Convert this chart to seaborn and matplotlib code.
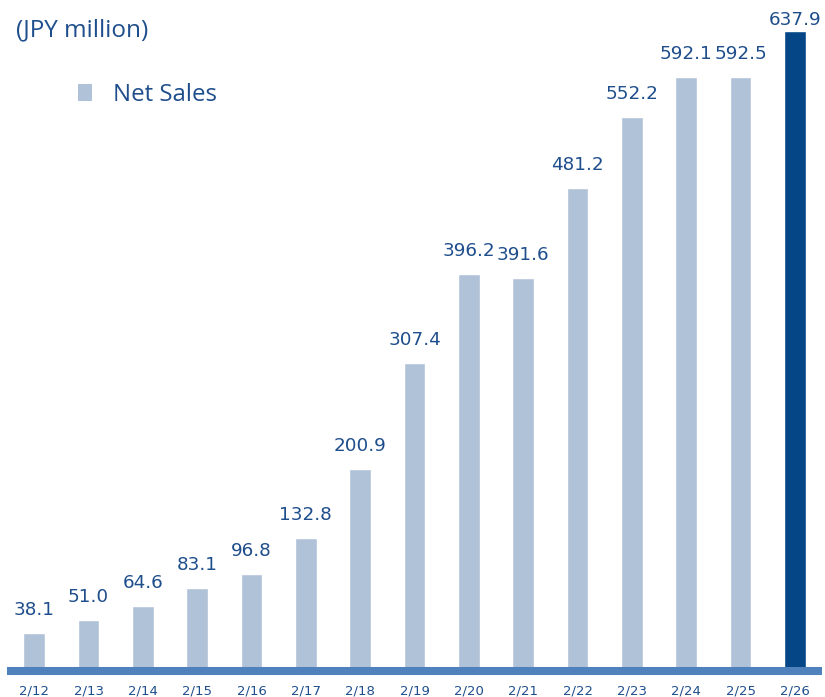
import matplotlib
matplotlib.use("Agg")
import matplotlib.pyplot as plt
from matplotlib.patches import Patch
import seaborn as sns
import pandas as pd

periods = ["2/12", "2/13", "2/14", "2/15", "2/16", "2/17", "2/18", "2/19",
           "2/20", "2/21", "2/22", "2/23", "2/24", "2/25", "2/26"]
net_sales = [38.1, 51.0, 64.6, 83.1, 96.8, 132.8, 200.9, 307.4,
             396.2, 391.6, 481.2, 552.2, 592.1, 592.5, 637.9]

light = "#B0C2D8"
dark = "#054687"
text_blue = "#1F4E8C"
axis_blue = "#4F81BD"

df = pd.DataFrame({"period": periods, "sales": net_sales})
colors = [light] * (len(periods) - 1) + [dark]

sns.set_theme(style="white")
plt.rcParams["font.family"] = ["DejaVu Sans"]

fig = plt.figure(figsize=(8.25, 6.97), dpi=100)
# axes bottom sits on the centre of the thick baseline
ax = fig.add_axes([7 / 825, 26 / 697, 815 / 825, 671 / 697])

sns.barplot(data=df, x="period", y="sales", hue="period", palette=colors,
            width=0.4, legend=False, saturation=1, ax=ax, zorder=2)

ax.set_xlim(-0.5, len(periods) - 0.5)
ax.set_ylim(0, 669)

# value labels; the top one is squeezed under the figure edge
for i, v in enumerate(net_sales):
    ax.text(i, min(v + 18, 644), f"{v:.1f}", ha="center", va="baseline",
            fontsize=13.2, color=text_blue)

ax.axhline(0, color=axis_blue, linewidth=5.8, zorder=3, clip_on=False,
           solid_capstyle="butt")

for s in ax.spines.values():
    s.set_visible(False)
ax.set_yticks([])
ax.set_xlabel("")
ax.set_ylabel("")
ax.tick_params(axis="x", length=0, pad=10, labelsize=9.5, labelcolor=text_blue)

fig.text(16 / 825, 1 - 30 / 697, "(JPY million)", fontsize=17.5,
         color=text_blue, family=["Open Sans", "DejaVu Sans"], va="center")

handle = Patch(facecolor=light, edgecolor="none", label="Net Sales")
leg = ax.legend(handles=[handle], loc="upper left",
                bbox_to_anchor=(71 / 815, 1 - 83 / 671), frameon=False,
                borderpad=0, borderaxespad=0,
                handlelength=0.58, handleheight=0.75, handletextpad=0.87,
                prop={"family": ["Open Sans", "DejaVu Sans"], "size": 17.3})
for t in leg.get_texts():
    t.set_color(text_blue)

fig.savefig("out.png", dpi=100)
plt.close(fig)
